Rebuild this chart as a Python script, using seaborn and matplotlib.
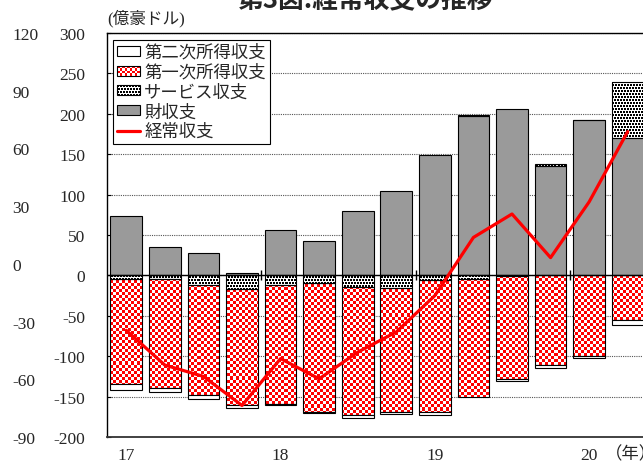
import numpy as np
import matplotlib
matplotlib.use("Agg")
import matplotlib.pyplot as plt
import seaborn as sns
from matplotlib.patches import Patch, Rectangle
from matplotlib.lines import Line2D
from matplotlib.legend_handler import HandlerBase

# 四半期（17年1Q〜20年2Q）
quarters = ["17Q1", "17Q2", "17Q3", "17Q4", "18Q1", "18Q2", "18Q3", "18Q4",
            "19Q1", "19Q2", "19Q3", "19Q4", "20Q1", "20Q2"]
year_labels = ["17", "18", "19", "20"]
year_starts = ["17Q1", "18Q1", "19Q1", "20Q1"]

# 億豪ドル
goods = [73, 35, 28, 3, 56, 42, 80, 104, 149, 197, 206, 136, 192, 170]
services = [-5, -4.5, -11.5, -17, -11.5, -9.5, -14.5, -15.5, -6, -5, -1, 1.5, 0, 69]
primary = [-130, -134.5, -137, -144, -147.5, -159, -158.5, -154, -162.5, -146, -127, -111, -99.5, -55.5]
secondary = [-6.5, -5.5, -4, -2.5, -2, -1.5, -3.5, -2, -4.5, 1, -3, -4, -2.5, -5.5]
current = [-68, -111, -125, -161, -103, -128, -95, -70, -25, 47, 76, 22, 91, 178]

# 外側の目盛（第2軸）
outer_ticks = [-90, -60, -30, 0, 30, 60, 90, 120]

RED = "#ff0000"
GRAY = "#9a9a9a"
checker = [[1, 0], [0, 1]]
dots = [[1, 1, 0], [1, 1, 0], [0, 0, 0], [0, 1, 1], [0, 1, 1], [0, 0, 0]]

sns.set_style("white")
plt.rcParams["font.family"] = ["Liberation Serif", "Noto Sans CJK JP"]
plt.rcParams["axes.unicode_minus"] = False
FS = 12.5

fig = plt.figure(figsize=(6.43, 4.64), dpi=100)
ax = fig.add_axes([107 / 643, 26 / 464, 540 / 643, 404 / 464])

# 積み上げの基点
pos = np.zeros(len(quarters))
neg = np.zeros(len(quarters))
bottoms = []
for vals in (goods, services, primary, secondary):
    v = np.asarray(vals, float)
    bottoms.append(np.where(v >= 0, pos, neg))
    pos = pos + np.clip(v, 0, None)
    neg = neg + np.clip(v, None, 0)


def draw(vals, bottom, color):
    sns.barplot(x=quarters, y=vals, order=quarters, bottom=bottom, color=color,
                saturation=1, width=0.82, edgecolor="black", linewidth=0.8,
                errorbar=None, ax=ax, zorder=2)
    return ax.containers[-1]


def texture(bars, tile, on, cell):
    # 棒の形で切り抜いた模様
    box = ax.get_window_extent()
    ny, nx = int(round(box.height / cell)), int(round(box.width / cell))
    t = np.asarray(tile)
    pat = np.tile(t, (ny // t.shape[0] + 1, nx // t.shape[1] + 1))[:ny, :nx]
    rgb = np.where(pat[..., None] == 1, np.array(on, float), np.ones(3))
    for bar in bars:
        im = ax.imshow(rgb, extent=(0, 1, 0, 1), transform=ax.transAxes,
                       interpolation="nearest", aspect="auto", zorder=1.9)
        im.set_clip_path(bar)
        bar.set_facecolor("none")


draw(goods, bottoms[0], GRAY)
b_serv = draw(services, bottoms[1], "white")
b_prim = draw(primary, bottoms[2], "white")
draw(secondary, bottoms[3], "white")
texture(b_serv, dots, (0, 0, 0), 1)
texture(b_prim, checker, (1, 0, 0), 3)

idx = np.arange(len(quarters))
sns.lineplot(x=idx, y=current, color=RED, linewidth=2.3, ax=ax, zorder=4)

ax.axhline(0, color="black", lw=1, zorder=3)
bounds = [quarters.index(q) - 0.5 for q in year_starts[1:]]
ax.vlines(bounds, -6, 7, color="black", lw=1, zorder=3)

ax.set_xlim(-0.5, len(quarters) - 0.5)
ax.set_ylim(-200, 300)
ax.set_yticks(range(-200, 301, 50))
ax.yaxis.grid(True, linestyle=(0, (1, 1)), color="#555555", linewidth=0.8)
ax.set_axisbelow(True)
ax.set_xticks([quarters.index(q) for q in year_starts])
ax.set_xticklabels(year_labels)
ax.tick_params(axis="x", length=0, pad=7.5, labelsize=FS)
ax.tick_params(axis="y", direction="in", length=3, width=0.8, color="black",
               pad=15.8, labelsize=FS, left=True)
ax.set_xlabel("")
ax.set_ylabel("")
for s in ("left", "top", "bottom"):
    ax.spines[s].set_visible(True)
    ax.spines[s].set_color("black")
    ax.spines[s].set_linewidth(1)
ax.spines["bottom"].set_color("#333333")
ax.spines["bottom"].set_linewidth(1.3)


class Texture:
    def __init__(self, tile, on, cell):
        self.tile, self.on, self.cell = np.asarray(tile), on, cell


class TextureHandler(HandlerBase):
    def create_artists(self, legend, orig, xd, yd, width, height, fontsize, trans):
        step = orig.cell * 0.72
        x0, y0 = -xd, -yd
        arts = [Rectangle((x0, y0), width, height, fc="white", ec="none", transform=trans)]
        th, tw = orig.tile.shape
        nx, ny = int(np.ceil(width / step)), int(np.ceil(height / step))
        for i in range(ny):
            for j in range(nx):
                if orig.tile[i % th, j % tw]:
                    w = min(step, width - j * step)
                    h = min(step, height - i * step)
                    arts.append(Rectangle((x0 + j * step, y0 + height - i * step - h), w, h,
                                          fc=orig.on, ec="none", lw=0, antialiased=False,
                                          transform=trans))
        arts.append(Rectangle((x0, y0), width, height, fc="none", ec="black", lw=0.8,
                              transform=trans))
        return arts


h_prim = Texture(checker, RED, 2.5)
h_serv = Texture(dots, "black", 1)
handles = [Patch(fc="white", ec="black", lw=0.8), h_prim, h_serv,
           Patch(fc=GRAY, ec="black", lw=0.8), Line2D([0], [0], color=RED, lw=2.3)]
labels = ["第二次所得収支", "第一次所得収支", "サービス収支", "財収支", "経常収支"]
leg = ax.legend(handles, labels, handler_map={Texture: TextureHandler()},
                loc="upper left", bbox_to_anchor=(0.011, 0.983), borderaxespad=0,
                fancybox=False, edgecolor="black", framealpha=1, fontsize=FS,
                handlelength=1.3, handleheight=0.5, handletextpad=0.25,
                labelspacing=0.2, borderpad=0.25)
leg.get_frame().set_linewidth(0.8)
leg.set_zorder(10)

# 外側の目盛列
ax2 = ax.twinx()
ax2.set_ylim(-90, 120)
ax2.set_yticks(outer_ticks)
ax2.yaxis.set_ticks_position("left")
for s in ax2.spines.values():
    s.set_visible(False)
ax2.tick_params(axis="y", length=0, pad=68.4, labelsize=FS)
plt.setp(ax2.get_yticklabels(), ha="left")
ax2.grid(False)

fig.text(107 / 643, 1 - 19 / 464, "(億豪ドル)", ha="left", va="center", fontsize=FS - 0.5)
fig.text(605 / 643, 1 - 455 / 464, "（年）", ha="left", va="center", fontsize=FS)
fig.text(0.568, 1.0, "第3図:経常収支の推移", ha="center", va="center", fontsize=18.5,
         fontweight="bold", family=["Noto Sans CJK JP"])

fig.savefig("out.png", dpi=100)
